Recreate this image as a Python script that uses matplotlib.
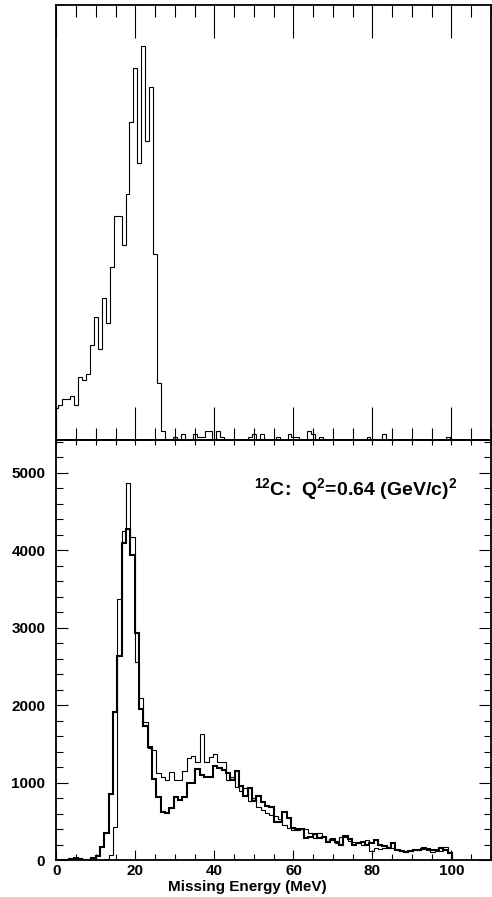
import matplotlib.pyplot as plt
import numpy as np
from matplotlib.ticker import MultipleLocator

plt.rcParams["font.family"] = ["Liberation Sans", "DejaVu Sans"]
plt.rcParams["font.weight"] = "bold"
plt.rcParams["mathtext.fontset"] = "custom"
plt.rcParams["mathtext.rm"] = "Liberation Sans:bold"
plt.rcParams["mathtext.bf"] = "Liberation Sans:bold"

# top panel: 1 MeV bins centred on integer energies (arbitrary units)
top_peak_counts = [10, 11, 13, 13, 14, 11, 20, 19, 21, 30, 39, 29, 45, 37,
                   55, 71, 71, 62, 78, 101, 118, 88, 125, 95, 112, 59, 18, 3]
top_tail_bins = [30, 32, 35, 36, 37, 38, 39, 41, 42, 49, 50, 52, 56, 59, 60,
                 61, 64, 65, 67, 79, 83, 99]
top_tail_counts = [1, 2, 2, 1, 1, 3, 3, 3, 1, 1, 2, 2, 1, 2, 1,
                   1, 3, 2, 1, 1, 2, 1]

# bottom panel: 1.1 MeV bins starting at 0
bin_width = 1.1
thick_counts = [0, 0, 0, 15, 20, 10, 0, 5, 20, 52,
                172, 344, 850, 1914, 2632, 4086, 4271, 3935, 2925, 1950,
                1730, 1462, 1040, 810, 613, 605, 667, 817, 780, 817,
                995, 998, 1174, 1097, 1075, 1068, 1213, 1183, 1161, 1120,
                1030, 1153, 955, 830, 933, 760, 826, 753, 697, 688,
                495, 495, 624, 538, 409, 396, 396, 280, 292, 335,
                280, 292, 237, 258, 237, 194, 310, 267, 194, 215,
                237, 200, 215, 258, 194, 180, 150, 215, 129, 120,
                108, 120, 129, 129, 140, 140, 130, 125, 150, 129,
                95]
thin_counts = [0, 0, 0, 0, 0, 0, 0, 0, 0, 0,
               0, 15, 65, 430, 3363, 4250, 4870, 4170, 2559, 2086,
               1780, 1440, 1419, 1125, 1075, 1028, 1130, 1032, 1032, 1150,
               1312, 1346, 1269, 1622, 1269, 1325, 1368, 1260, 1260, 1030,
               1075, 946, 888, 933, 760, 800, 688, 645, 602, 581,
               568, 525, 452, 409, 387, 387, 400, 400, 344, 280,
               344, 310, 237, 280, 215, 301, 301, 250, 237, 220,
               194, 258, 120, 150, 140, 160, 172, 150, 129, 120,
               108, 120, 129, 129, 163, 130, 108, 120, 120, 163,
               108]

x_ticks = [0, 20, 40, 60, 80, 100]
y_ticks = [0, 1000, 2000, 3000, 4000, 5000]

top_counts = np.zeros(110)
top_counts[:len(top_peak_counts)] = top_peak_counts
top_counts[top_tail_bins] = top_tail_counts
top_edges = np.concatenate([[0.0], np.arange(0.5, 110.0, 1.0)])

bot_edges = bin_width * np.arange(len(thick_counts) + 1)

fig = plt.figure(figsize=(4.92, 8.97), dpi=100)
left, width = 56.4 / 492, 434.6 / 492
ax_top = fig.add_axes([left, 457 / 897, width, 435 / 897])
ax_bot = fig.add_axes([left, 37 / 897, width, 420 / 897])

for ax in (ax_top, ax_bot):
    for sp in ax.spines.values():
        sp.set_linewidth(1.3)
    ax.set_xlim(0, 110)
    ax.xaxis.set_major_locator(MultipleLocator(20))
    ax.xaxis.set_minor_locator(MultipleLocator(5))

# top panel, ticks on both edges pointing inwards, no y scale
ax_top.stairs(top_counts, top_edges, color="black", linewidth=0.8)
ax_top.set_ylim(0, 138)
ax_top.set_yticks([])
ax_top.xaxis.set_ticks_position("both")
ax_top.tick_params(axis="x", which="both", direction="in", top=True,
                   bottom=True, labelbottom=False, labeltop=False, width=0.8)
ax_top.tick_params(axis="x", which="major", length=24)
ax_top.tick_params(axis="x", which="minor", length=8.6)

# bottom panel
ax_bot.stairs(thin_counts, bot_edges, color="black", linewidth=0.8)
ax_bot.stairs(thick_counts, bot_edges, color="black", linewidth=1.5)
ax_bot.set_ylim(0, 5420)
ax_bot.set_xticks(x_ticks)
ax_bot.set_yticks(y_ticks)
ax_bot.yaxis.set_minor_locator(MultipleLocator(200))
ax_bot.tick_params(axis="x", which="both", direction="in", top=False,
                   bottom=True, width=0.8, labelsize=11, pad=3)
ax_bot.tick_params(axis="x", which="major", length=7.2)
ax_bot.tick_params(axis="x", which="minor", length=4.3)
ax_bot.tick_params(axis="y", which="both", direction="in", left=True,
                   right=True, width=0.8, labelsize=11, pad=8)
ax_bot.tick_params(axis="y", which="major", length=8.6)
ax_bot.tick_params(axis="y", which="minor", length=5)

sec = ax_bot.secondary_xaxis("top")
sec.set_xticks(x_ticks)
sec.xaxis.set_minor_locator(MultipleLocator(5))
sec.tick_params(axis="x", which="both", direction="in", length=3.6,
                width=0.8, labeltop=False)
sec.spines["top"].set_linewidth(1.3)

ax_bot.set_xlabel("Missing Energy (MeV)", fontsize=11, fontweight="bold",
                  x=0.44, labelpad=1)
ax_bot.text(50, 4700, r"$^{\mathbf{12}}$C:  Q$^{\mathbf{2}}$=0.64 (GeV/c)$^{\mathbf{2}}$",
            fontsize=14, fontweight="bold", va="baseline")

fig.savefig("out.png", dpi=100)
